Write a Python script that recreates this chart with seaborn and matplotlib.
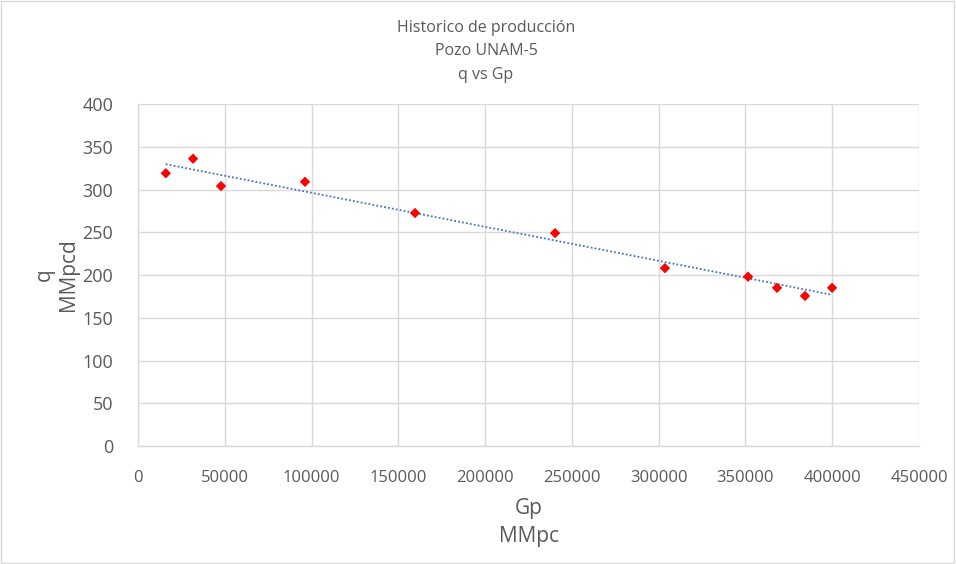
import numpy as np
import pandas as pd
import matplotlib
matplotlib.use('Agg')
import matplotlib.pyplot as plt
import seaborn as sns

# Datos
gp = [16000, 31700, 47800, 96200, 159600, 240300, 303600, 351500, 368200, 384300, 399900]
q = [319, 336, 304, 309, 272.5, 249, 208, 198, 185, 175.5, 185]

df = pd.DataFrame({'Gp': gp, 'q': q})

sns.set_style('whitegrid')
plt.rcParams['font.family'] = ['Open Sans', 'DejaVu Sans']

fig = plt.figure(figsize=(9.56, 5.64), dpi=100)
ax = fig.add_axes([0.1444, 0.2092, 0.8169, 0.6064])

# linea de tendencia
sns.regplot(data=df, x='Gp', y='q', scatter=False, ci=None, ax=ax,
            line_kws=dict(color='#4472C4', linestyle=(0, (1, 1.2)), linewidth=1.3))
sns.scatterplot(data=df, x='Gp', y='q', marker='D', color='#FF0000',
                edgecolor='none', s=28, ax=ax, zorder=3)

ax.set_xlim(0, 450000)
ax.set_ylim(0, 400)
ax.set_xticks(np.arange(0, 450001, 50000))
ax.set_yticks(np.arange(0, 401, 50))
ax.tick_params(axis='x', labelsize=12, labelcolor='#595959', length=0, pad=17)
ax.tick_params(axis='y', labelsize=13, labelcolor='#595959', length=0, pad=18)
ax.grid(True, color='#D9D9D9', linewidth=1)
for s in ['top', 'right']:
    ax.spines[s].set_visible(False)
for s in ['left', 'bottom']:
    ax.spines[s].set_color('#D9D9D9')
    ax.spines[s].set_linewidth(1)

ax.set_xlabel('Gp\nMMpc', fontsize=15, color='#595959', labelpad=9, linespacing=1.4)
ax.set_ylabel('q\nMMpcd', fontsize=15, color='#595959', labelpad=2, linespacing=1.2)
fig.text(486 / 956, 1 - 20 / 564, 'Historico de producción\nPozo UNAM-5\nq vs Gp',
         fontsize=11.5, color='#595959', ha='center', va='top', linespacing=1.62)

fig.patches.append(plt.Rectangle((0.001, 0.002), 0.997, 0.996, transform=fig.transFigure,
                                 fill=False, edgecolor='#D9D9D9', linewidth=1))

fig.savefig('out.png', dpi=100, facecolor='white')
